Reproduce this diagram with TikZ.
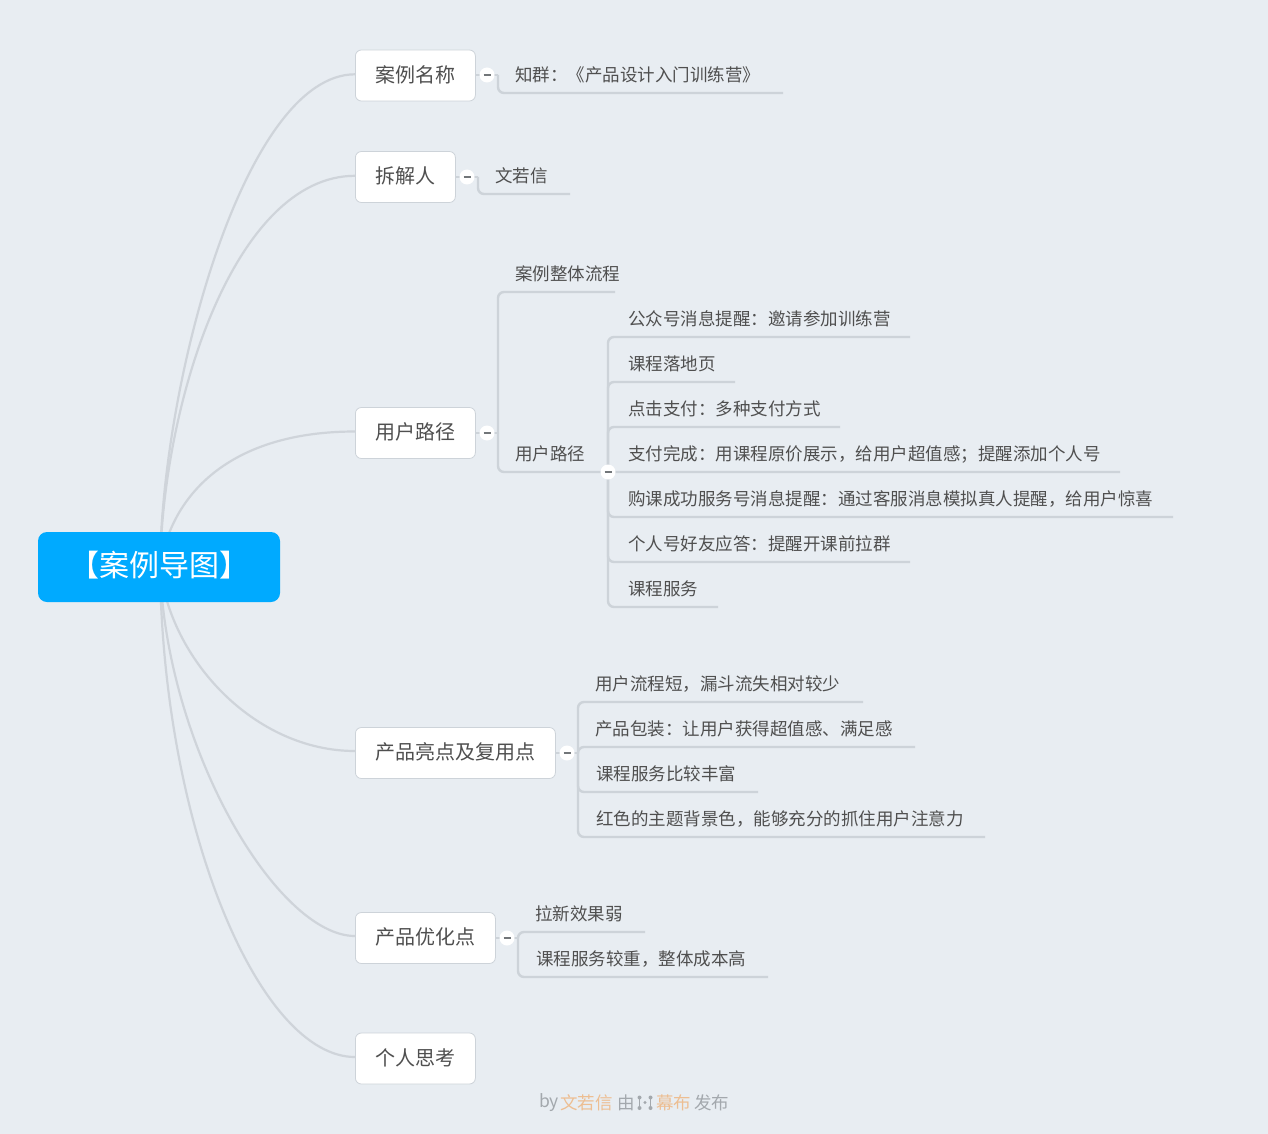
\documentclass[tikz,border=0pt]{standalone}
\usepackage{fontspec}
\setmainfont{Noto Sans CJK SC}
\usetikzlibrary{backgrounds}
\definecolor{bgc}{HTML}{E8EDF2}
\definecolor{linec}{HTML}{CDD3D9}
\definecolor{curvec}{HTML}{CFD4DA}
\definecolor{txtc}{HTML}{4F4F4F}
\definecolor{rootc}{HTML}{00AAFF}
\definecolor{orangec}{HTML}{EDBE92}
\definecolor{footc}{HTML}{A3A8AD}
\tikzset{
  rootbox/.style={draw=none,fill=rootc,rounded corners=9pt,minimum width=242pt,minimum height=70pt,inner sep=0pt,text=white,font=\fontsize{30}{30}\selectfont},
  topicbox/.style={draw=linec,line width=0.8pt,fill=white,rounded corners=6pt,minimum height=51pt,inner sep=0pt,anchor=west,text=txtc,font=\fontsize{20}{20}\selectfont},
  leaf/.style={inner sep=0pt,anchor=west,text=txtc,font=\fontsize{17.5}{17.5}\selectfont},
  curve/.style={draw=curvec,line width=2.2pt},
  conn/.style={draw=linec,line width=2.4pt,rounded corners=6pt},
  stub/.style={draw=linec,line width=1.5pt},
  btn/.style={circle,fill=white,draw=none,minimum size=15pt,inner sep=0pt},
  dashmark/.style={draw=footc!70!black,line width=2.2pt},
  foot/.style={inner sep=0pt,anchor=west,font=\fontsize{17.5}{17.5}\selectfont}
}
\newcommand{\leafitem}[6]{%
  \node[leaf] (#1) at (#3,#4+1) {#6};
  \coordinate (#1e) at (#5,#4+19);
  \begin{pgfonlayer}{background}
    \draw[conn] (#2) -- (#2 |- #1e) -- (#1e);
  \end{pgfonlayer}
}
\newcommand{\minusbtn}[5]{%
  \node[btn] (#1) at (#3,#4) {};
  \draw[dashmark] ([xshift=-3.5pt]#1.center) -- ([xshift=3.5pt]#1.center);
  \coordinate (#1s) at (#5,#4);
  \begin{pgfonlayer}{background}
    \draw[stub] (#2.east |- #1) -- (#1s);
  \end{pgfonlayer}
}
\newcommand{\topictext}[1]{\raisebox{3.5pt}{#1}}
\begin{document}
\begin{tikzpicture}[x=1pt,y=-1pt]
\useasboundingbox (0,0) rectangle (1268,1134);
\begin{scope}[on background layer]
  \fill[bgc] (0,0) rectangle (1268,1134);
\end{scope}
\node[rootbox] (root) at (159,567) {\raisebox{6pt}{【案例导图】}};
\coordinate (rc) at (160,567);

\node[topicbox,minimum width=120pt] (a) at (355,75.5) {\topictext{案例名称}};
\node[topicbox,minimum width=100pt] (b) at (355,177) {\topictext{拆解人}};
\node[topicbox,minimum width=120pt] (c) at (355,433) {\topictext{用户路径}};
\node[topicbox,minimum width=200pt] (d) at (355,753) {\topictext{产品亮点及复用点}};
\node[topicbox,minimum width=140pt] (e) at (355,938) {\topictext{产品优化点}};
\node[topicbox,minimum width=120pt] (f) at (355,1058.5) {\topictext{个人思考}};

\begin{pgfonlayer}{background}
  \draw[curve] (rc) .. controls (162,380) and (245,74.5) .. ([yshift=1.2pt]a.west);
  \draw[curve] (rc) .. controls (163,400) and (235,176) .. ([yshift=1.2pt]b.west);
  \draw[curve] (rc) .. controls (172,490) and (235,431.5) .. ([yshift=1.5pt]c.west);
  \draw[curve] (rc) .. controls (170,660) and (255,751) .. ([yshift=2pt]d.west);
  \draw[curve] (rc) .. controls (166,750) and (278,936) .. ([yshift=2pt]e.west);
  \draw[curve] (rc) .. controls (163,830) and (260,1057) .. ([yshift=1.5pt]f.west);
\end{pgfonlayer}

\minusbtn{ba}{a}{487}{75}{498}
\leafitem{a1}{bas}{515}{74}{783}{知群：《产品设计入门训练营》}

\minusbtn{bb}{b}{467}{177}{478}
\leafitem{b1}{bbs}{495}{175}{570}{文若信}

\minusbtn{bc}{c}{487}{433}{498}
\leafitem{c1}{bcs}{515}{273}{615}{案例整体流程}
\leafitem{c2}{bcs}{515}{453}{612}{用户路径}

\node[btn] (bg) at (608,472) {};
\draw[dashmark] ([xshift=-3.5pt]bg.center) -- ([xshift=3.5pt]bg.center);
\coordinate (bgs) at (608,472);
\leafitem{g1}{bgs}{628}{318}{910}{公众号消息提醒：邀请参加训练营}
\leafitem{g2}{bgs}{628}{363}{735}{课程落地页}
\leafitem{g3}{bgs}{628}{408}{840}{点击支付：多种支付方式}
\leafitem{g4}{bgs}{628}{453}{1120}{支付完成：用课程原价展示，给用户超值感；提醒添加个人号}
\leafitem{g5}{bgs}{628}{498}{1173}{购课成功服务号消息提醒：通过客服消息模拟真人提醒，给用户惊喜}
\leafitem{g6}{bgs}{628}{543}{910}{个人号好友应答：提醒开课前拉群}
\leafitem{g7}{bgs}{628}{588}{718}{课程服务}

\minusbtn{bd}{d}{567}{753}{578}
\leafitem{d1}{bds}{595}{683}{863}{用户流程短，漏斗流失相对较少}
\leafitem{d2}{bds}{595}{728}{915}{产品包装：让用户获得超值感、满足感}
\leafitem{d3}{bds}{596}{773}{758}{课程服务比较丰富}
\leafitem{d4}{bds}{596}{818}{985}{红色的主题背景色，能够充分的抓住用户注意力}

\minusbtn{be}{e}{507}{938}{518}
\leafitem{e1}{bes}{535}{913}{645}{拉新效果弱}
\leafitem{e2}{bes}{536}{958}{768}{课程服务较重，整体成本高}

\node[foot,text=footc] (f1) at (539,1103) {by};
\node[foot,text=orangec] (f2) at (560,1103) {文若信};
\node[foot,text=footc] (f3) at (617,1103) {由};
\fill[footc] (639.5,1097.5) circle (2pt) (639.5,1108) circle (2pt) (645,1102.5) circle (1.6pt) (650.5,1097.5) circle (2pt) (650.5,1108) circle (2pt);
\draw[footc,line width=1.2pt] (639.5,1097.5) -- (639.5,1108) (650.5,1097.5) -- (650.5,1108);
\node[foot,text=orangec] (f4) at (656,1103) {幕布};
\node[foot,text=footc] (f5) at (694,1103) {发布};
\end{tikzpicture}
\end{document}
